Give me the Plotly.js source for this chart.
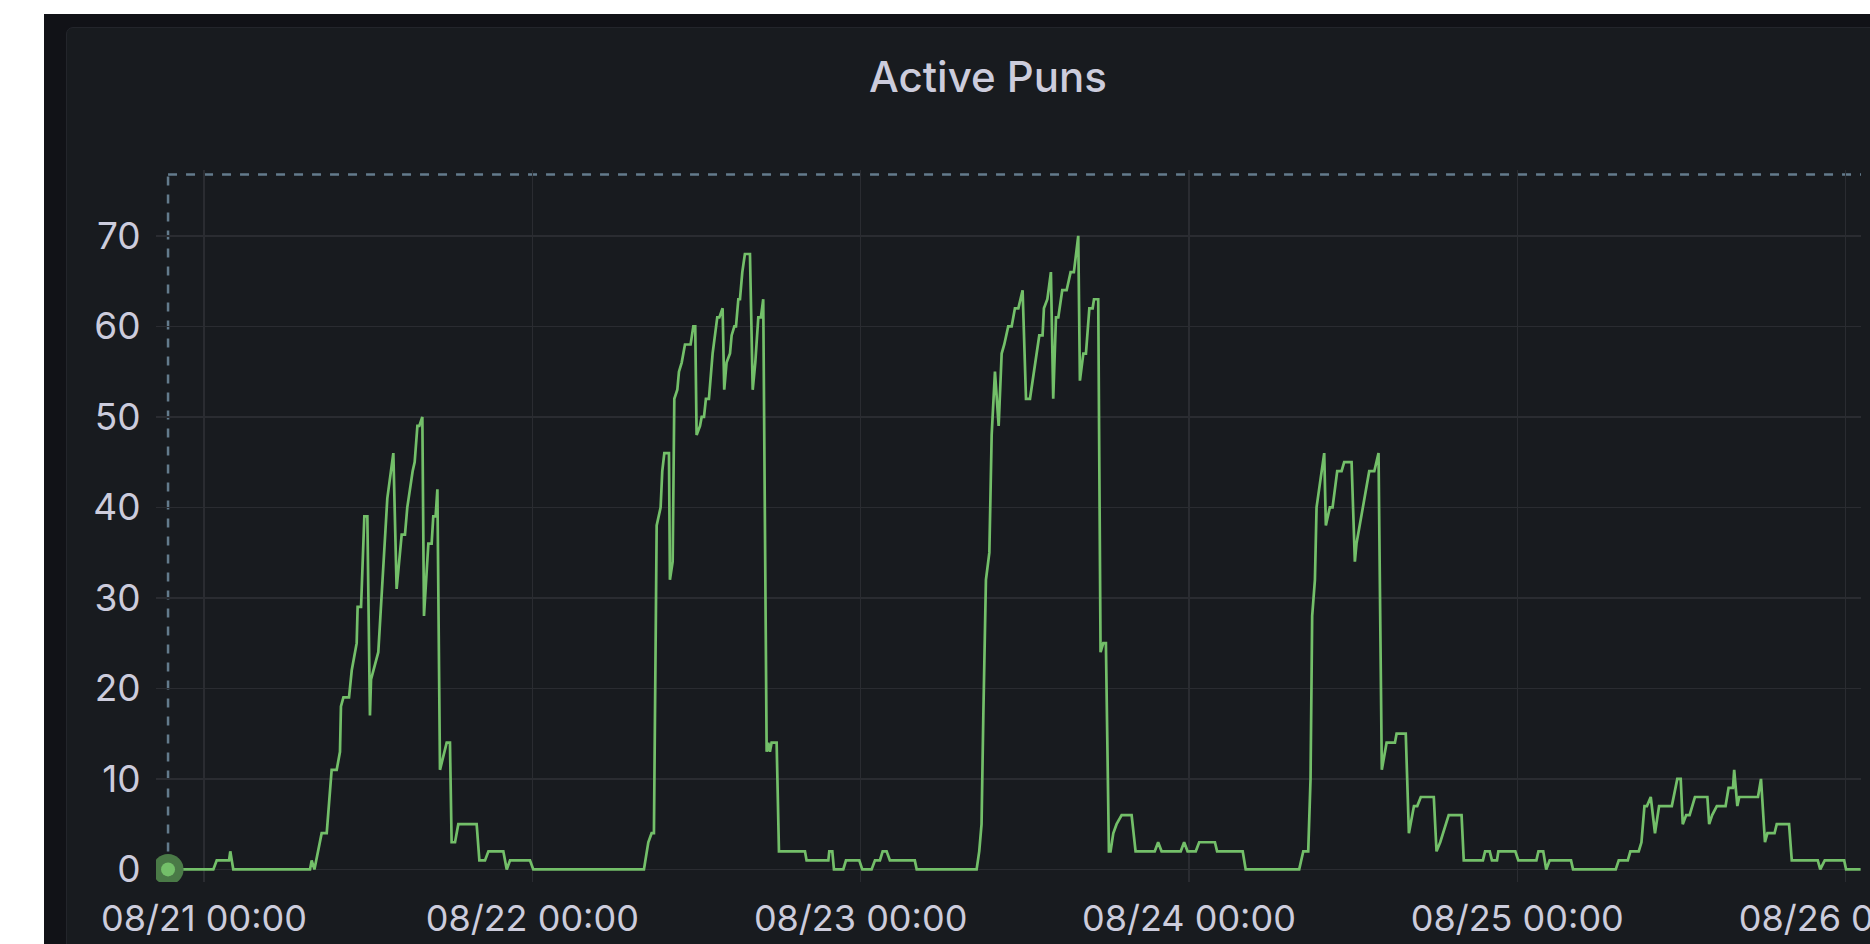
<!DOCTYPE html>
<html><head><meta charset="utf-8">
<script src="https://cdn.plot.ly/plotly-3.0.1.min.js"></script>
<style>
html,body{margin:0;padding:0;width:1870px;height:944px;overflow:hidden;background:#ffffff;}
#outer{position:absolute;left:44px;top:14px;width:1826px;height:930px;background:#111217;}
#panel{position:absolute;left:66px;top:27px;width:1900px;height:1000px;background:#181b1f;border:1px solid #23252b;border-radius:7px;box-sizing:border-box;}
#chart{position:absolute;left:0;top:0;width:1870px;height:944px;}
</style></head><body>
<div id="outer"></div><div id="panel"></div><div id="chart"></div>
<script>
const chartTitle = 'Active Puns';
const baseDate = '2023-08-21T00:00:00Z';
const dayTickFormat = '%m/%d %H:%M';
const yTickValues = [0, 10, 20, 30, 40, 50, 60, 70];

// hours after 08/21 00:00 at each vertex of the series
const hoursFromStart = [
 -2.63, 0.68, 0.93, 1.83, 1.92, 2.14, 7.75, 7.87, 8.07, 8.36, 8.60, 8.97, 9.33, 9.70, 9.94, 10.01, 10.19, 10.60, 10.80, 11.16,
 11.23, 11.48, 11.72, 11.94, 12.13, 12.21, 12.74, 13.40, 13.84, 14.08, 14.45, 14.69, 14.86, 15.25, 15.40, 15.60, 15.74, 15.96, 16.08, 16.40,
 16.64, 16.76, 16.93, 17.06, 17.25, 17.74, 17.98, 18.10, 18.35, 18.59, 19.93, 20.13, 20.54, 20.79, 21.88, 22.13, 22.37, 23.83, 24.07,
 32.16, 32.48, 32.72, 32.89, 33.09, 33.38, 33.50, 33.65, 33.99, 34.06, 34.26, 34.38, 34.60, 34.72, 34.92, 35.16, 35.57, 35.77, 35.91, 36.01,
 36.26, 36.38, 36.55, 36.69, 36.91, 37.18, 37.52, 37.67, 37.91, 38.03, 38.20, 38.45, 38.57, 38.77, 38.89, 39.06, 39.18, 39.35, 39.54, 39.91,
 40.11, 40.30, 40.52, 40.71, 40.88, 41.08, 41.13, 41.25, 41.37, 41.49, 41.86, 42.03, 43.93, 44.05, 45.64, 45.71, 45.93, 46.05, 46.73, 46.93,
 47.90, 48.12, 48.80, 49.05, 49.41, 49.61, 49.90, 50.14, 51.96, 52.10,
 56.48, 56.67, 56.84, 56.97, 57.16, 57.41, 57.58, 57.82, 58.09, 58.31, 58.50, 58.79, 59.04, 59.28, 59.53, 59.84, 60.09, 60.38, 60.74, 61.06,
 61.30, 61.40, 61.65, 61.91, 62.08, 62.28, 62.45, 62.74, 63.06, 63.35, 63.59, 63.91, 64.03, 64.28, 64.47, 64.72, 64.96, 65.06, 65.37, 65.54,
 65.74, 65.93, 66.15, 66.27, 66.47, 66.71, 67.08, 67.81, 68.10, 69.50, 69.75, 70.00, 71.40, 71.65, 71.90, 72.50, 72.75, 73.90, 74.06, 75.93, 76.15,
 80.06, 80.36, 80.72, 80.89, 81.01, 81.21, 81.33, 81.89, 82.01, 82.30, 82.50, 82.84, 83.16, 83.35, 83.89, 84.13, 84.25, 85.18, 85.55, 85.86,
 86.10, 86.45, 87.06, 87.18, 87.85, 88.08, 88.45, 88.69, 88.95, 89.90, 90.10, 90.37, 90.99, 91.93, 92.09, 93.49, 93.65, 93.99, 94.15, 94.52,
 94.62, 95.86, 96.08, 97.40, 97.55, 97.90, 98.12, 98.37, 99.93, 100.08, 103.20, 103.42, 104.08, 104.27, 104.88, 105.08, 105.30, 105.48, 105.76, 106.07,
 106.37, 107.30, 107.70, 107.95, 108.10, 108.35, 108.60, 108.99, 109.90, 110.03, 110.25, 110.59, 111.23, 111.45, 111.60, 111.77, 111.86, 112.09, 112.23, 113.60,
 113.82, 114.11, 114.29, 114.81, 114.97, 115.87, 116.07, 117.97, 118.15, 118.48, 119.90, 120.04, 121.10
];
const activePuns = [
 0, 0, 1, 1, 2, 0, 0, 1, 0, 2, 4, 4, 11, 11, 13, 18, 19, 19, 22, 25,
 29, 29, 39, 39, 17, 21, 24, 41, 46, 31, 37, 37, 40, 44, 45, 49, 49, 50, 28, 36,
 36, 39, 39, 42, 11, 14, 14, 3, 3, 5, 5, 1, 1, 2, 2, 0, 1, 1, 0,
 0, 3, 4, 4, 38, 40, 44, 46, 46, 32, 34, 52, 53, 55, 56, 58, 58, 60, 60, 48,
 49, 50, 50, 52, 52, 57, 61, 61, 62, 53, 56, 57, 59, 60, 60, 63, 63, 66, 68, 68,
 53, 56, 61, 61, 63, 14, 13, 14, 13, 14, 14, 2, 2, 1, 1, 2, 2, 0, 0, 1,
 1, 0, 0, 1, 1, 2, 2, 1, 1, 0,
 0, 2, 5, 17, 32, 35, 48, 55, 49, 57, 58, 60, 60, 62, 62, 64, 52, 52, 56, 59,
 59, 62, 63, 66, 52, 61, 61, 64, 64, 66, 66, 70, 54, 57, 57, 62, 62, 63, 63, 24,
 25, 25, 2, 2, 4, 5, 6, 6, 2, 2, 3, 2, 2, 3, 2, 2, 3, 3, 2, 2, 0,
 0, 2, 2, 10, 28, 32, 40, 46, 38, 40, 40, 44, 44, 45, 45, 34, 36, 44, 44, 46,
 11, 14, 14, 15, 15, 4, 7, 7, 8, 8, 2, 3, 6, 6, 1, 1, 2, 2, 1, 1,
 2, 2, 1, 1, 2, 2, 0, 1, 1, 0, 0, 1, 1, 2, 2, 3, 7, 7, 8, 4,
 7, 7, 10, 10, 5, 6, 6, 8, 8, 5, 6, 7, 7, 9, 9, 9, 11, 7, 8, 8,
 10, 3, 4, 4, 5, 5, 1, 1, 0, 1, 1, 0, 0
];
const xRangeHours = [-3.51, 121.13];
const yRange = [-1.39, 77.28];
const crosshairTop = 76.78;

const base = Date.parse(baseDate);
const toStr = h => new Date(base + h * 3600000).toISOString().slice(0, 19).replace('T', ' ');
const times = hoursFromStart.map(toStr);

const green = '#73bf69';
const textColor = '#ccccdc';
const gridColor = '#2a2c31';
const dashColor = '#637b8c';

const traces = [
  {x: times, y: activePuns, type: 'scatter', mode: 'lines',
   line: {color: green, width: 2.7, shape: 'linear'}, hoverinfo: 'skip'},
  {x: [times[0]], y: [activePuns[0]], type: 'scatter', mode: 'markers',
   marker: {size: 31, color: '#4a7a47'}, hoverinfo: 'skip'},
  {x: [times[0]], y: [activePuns[0]], type: 'scatter', mode: 'markers',
   marker: {size: 14, color: green}, hoverinfo: 'skip'}
];

const layout = {
  width: 1870, height: 944,
  margin: {l: 156, r: 9, t: 170, b: 62, pad: 0},
  paper_bgcolor: 'rgba(0,0,0,0)', plot_bgcolor: 'rgba(0,0,0,0)',
  showlegend: false,
  font: {family: 'Inter, "Noto Sans", sans-serif', color: textColor},
  title: {text: chartTitle, font: {family: 'Inter, sans-serif', size: 42, color: textColor, weight: 500},
          xref: 'container', yref: 'container', x: 988 / 1870, xanchor: 'center', y: 1 - 77 / 944, yanchor: 'middle'},
  xaxis: {type: 'date', range: [toStr(xRangeHours[0]), toStr(xRangeHours[1])],
          tick0: toStr(0), dtick: 86400000, tickformat: dayTickFormat,
          showgrid: true, gridcolor: gridColor, gridwidth: 1.3, zeroline: false, showline: false,
          ticks: 'outside', ticklen: 5, tickcolor: 'rgba(0,0,0,0)', ticklabeloverflow: 'allow',
          tickfont: {family: 'Inter, sans-serif', size: 36, color: textColor}, fixedrange: true},
  yaxis: {range: yRange, tickvals: yTickValues, ticktext: yTickValues.map(String),
          showgrid: true, gridcolor: gridColor, gridwidth: 1.3, zeroline: false, showline: false,
          ticks: 'outside', ticklen: 7, tickcolor: 'rgba(0,0,0,0)',
          tickfont: {family: 'Inter, sans-serif', size: 37, color: textColor}, fixedrange: true},
  shapes: [
    {type: 'line', layer: 'below', xref: 'x', yref: 'y', x0: times[0], x1: times[0], y0: 0, y1: crosshairTop,
     line: {color: dashColor, width: 2.5, dash: '9px,9px'}},
    {type: 'line', layer: 'below', xref: 'x', yref: 'y', x0: times[0], x1: toStr(xRangeHours[1]), y0: crosshairTop, y1: crosshairTop,
     line: {color: dashColor, width: 2.5, dash: '9px,9px'}}
  ]
};

Plotly.newPlot('chart', traces, layout, {displayModeBar: false, staticPlot: true});
</script>
</body></html>
